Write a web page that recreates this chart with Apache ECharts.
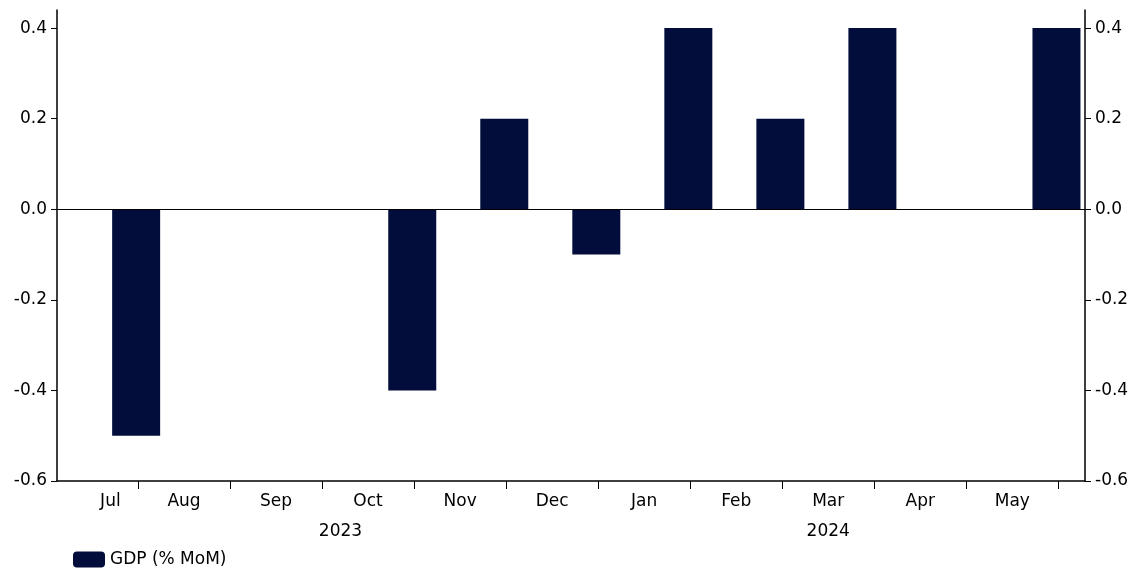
<!DOCTYPE html><html><head><meta charset="utf-8">
<script src="https://cdn.jsdelivr.net/npm/echarts@6/dist/echarts.min.js"></script>
<style>html,body{margin:0;background:#fff}#c{width:1146px;height:577px}</style></head><body><div id="c"></div>
<script>
// month index: end of Jul 2023 = 1
const monthLabels=['Jul','Aug','Sep','Oct','Nov','Dec','Jan','Feb','Mar','Apr','May'];
const monthLabelPos=[0.7,1.5,2.5,3.5,4.5,5.5,6.5,7.5,8.5,9.5,10.5];
const tickPos=[1,2,3,4,5,6,7,8,9,10,11];
const yearLabels=['2023','2024'];
const yearPos=[3.2,8.5];
const barX=[1,2,3,4,5,6,7,8,9,10,11];
const gdp=[-0.5,0,0,-0.4,0.2,-0.1,0.4,0.2,0.4,0,0.4];
const font='DejaVu Sans';
const navy='#020d3b';
const chart=echarts.init(document.getElementById('c'));
chart.setOption({
 animation:false,
 textStyle:{fontFamily:font},
 grid:{left:57,right:61,top:10,bottom:96},
 legend:{left:68,bottom:4,itemWidth:32,itemHeight:16,textStyle:{fontSize:17,color:'#000',fontFamily:font},data:['GDP (% MoM)']},
 xAxis:[{type:'value',min:0.12,max:11.29,splitLine:{show:false},
  axisLine:{onZero:false,lineStyle:{color:'#000',width:1.5}},
  axisTick:{customValues:tickPos,length:8,lineStyle:{color:'#000'}},
  axisLabel:{customValues:monthLabelPos,formatter:v=>monthLabels[monthLabelPos.indexOf(v)]||'',fontSize:17,color:'#000',margin:12}},
 {type:'value',position:'bottom',min:0.12,max:11.29,axisLine:{show:false},axisTick:{show:false},splitLine:{show:false},
  axisLabel:{customValues:yearPos,formatter:v=>yearLabels[yearPos.indexOf(v)]||'',fontSize:17,color:'#000',margin:42}}],
 yAxis:[{type:'value',min:-0.6,max:0.44,interval:0.2,position:'left',splitLine:{show:false},
  axisLine:{show:true,lineStyle:{color:'#000',width:1.5}},axisTick:{show:true,length:6,lineStyle:{color:'#000'}},
  axisLabel:{showMaxLabel:false,formatter:v=>v.toFixed(1),fontSize:17,color:'#000',margin:10}},
 {type:'value',min:-0.6,max:0.44,interval:0.2,position:'right',splitLine:{show:false},
  axisLine:{show:true,lineStyle:{color:'#000',width:1.5}},axisTick:{show:true,length:6,lineStyle:{color:'#000'}},
  axisLabel:{showMaxLabel:false,formatter:v=>v.toFixed(1),fontSize:17,color:'#000',margin:10}}],
 series:[{name:'GDP (% MoM)',type:'bar',barWidth:48,itemStyle:{color:navy},
  data:barX.map((x,i)=>[x-0.02,gdp[i]]),
  markLine:{silent:true,symbol:'none',label:{show:false},lineStyle:{color:'#000',width:1,type:'solid'},data:[{yAxis:0}]}}]
});
</script></body></html>
